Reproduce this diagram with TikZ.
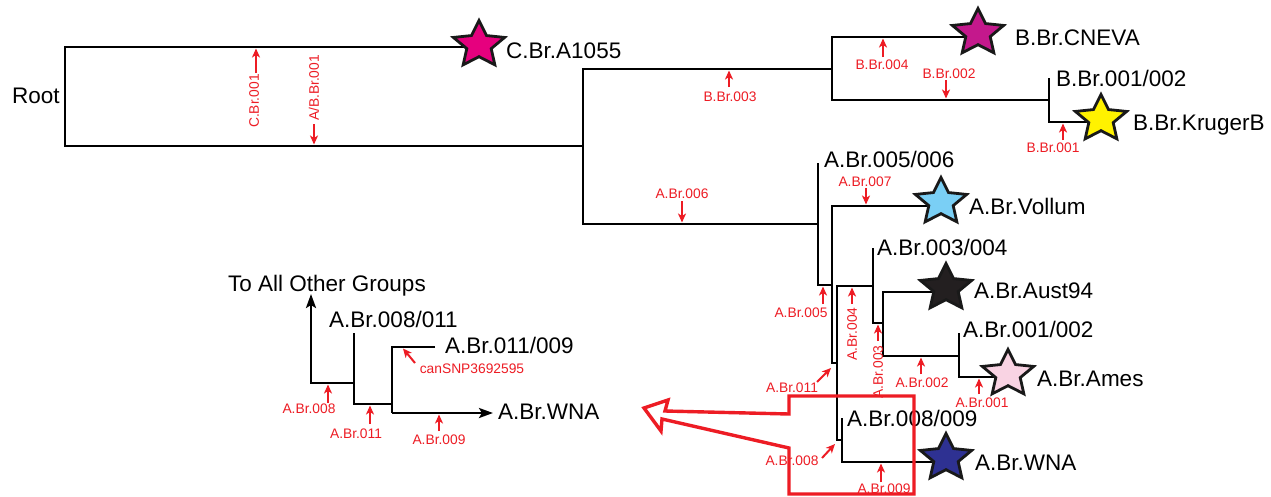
\documentclass[tikz,border=0pt]{standalone}
\usepackage{fontspec}
\setmainfont{Liberation Sans}
\usetikzlibrary{shapes.geometric,arrows.meta}
\definecolor{myred}{RGB}{237,28,36}
\definecolor{cC}{RGB}{230,0,126}
\definecolor{cCNEVA}{RGB}{196,24,140}
\definecolor{cKruger}{RGB}{255,242,0}
\definecolor{cVollum}{RGB}{122,207,245}
\definecolor{cAust}{RGB}{35,31,32}
\definecolor{cAmes}{RGB}{249,211,227}
\definecolor{cWNA}{RGB}{46,49,146}
\begin{document}
\begin{tikzpicture}[x=1pt,y=-1pt,
  tree/.style={line width=2.6pt, line join=miter, line cap=butt},
  starbox/.style={star, star points=5, star point ratio=2.1, minimum size=49pt, inner sep=0pt, draw=black!90, line width=2.8pt, xscale=1.1},
  big/.style={font=\fontsize{22.5}{27}\selectfont, inner sep=0pt, anchor=base west},
  lbl/.style={font=\fontsize{13.8}{16}\selectfont, text=myred, inner sep=0pt},
  redarr/.style={draw=myred, line width=2pt, -{Stealth[length=9pt,width=8pt,inset=2.5pt]}},
  blkarr/.style={tree, -{Stealth[length=14pt,width=10pt,inset=3pt]}},
  redbox/.style={draw=myred, line width=3.4pt, line join=miter}
]
\fill[white] (0,0) rectangle (1271,496);
\useasboundingbox (0,0) rectangle (1271,496);

% junction coordinates
\coordinate (rt) at (65,47);
\coordinate (rb) at (65,146);
\coordinate (n1m) at (583,146);
\coordinate (n1t) at (583,69);
\coordinate (n1b) at (583,224);
\coordinate (nBt) at (832,69);
\coordinate (nBu) at (832,37);
\coordinate (nBd) at (832,100);
\coordinate (nB12) at (1049,100);
\coordinate (nB12t) at (1049,78);
\coordinate (nB12b) at (1049,122);
\coordinate (nAm) at (818,224);
\coordinate (nAt) at (818,163);
\coordinate (nAb) at (818,285);
\coordinate (n2m) at (832,285);
\coordinate (n2t) at (832,206);
\coordinate (n2b) at (832,363);
\coordinate (n3m) at (837,363);
\coordinate (n3t) at (837,286);
\coordinate (n3b) at (837,440);
\coordinate (n34m) at (873,286);
\coordinate (n34t) at (873,248);
\coordinate (n34b) at (873,323);
\coordinate (n4m) at (883,323);
\coordinate (n4t) at (883,292);
\coordinate (n4b) at (883,356);
\coordinate (n12m) at (959,356);
\coordinate (n12t) at (959,333);
\coordinate (n12b) at (959,377);
\coordinate (n89m) at (842,440);
\coordinate (n89t) at (842,418);
\coordinate (n89b) at (842,462);

% tree lines
\draw[tree] (479,47) -- (rt) -- (rb) -- (n1m);
\draw[tree] (nBt) -- (n1t) -- (n1b) -- (nAm);
\draw[tree] (978,37) -- (nBu) -- (nBd) -- (nB12);
\draw[tree] (nB12t) -- (nB12b) -- (1101,122);
\draw[tree] (nAt) -- (nAb) -- (n2m);
\draw[tree] (941,206) -- (n2t) -- (n2b) -- (n3m);
\draw[tree] (n34m) -- (n3t) -- (n3b) -- (n89m);
\draw[tree] (n34t) -- (n34b) -- (n4m);
\draw[tree] (946,292) -- (n4t) -- (n4b) -- (n12m);
\draw[tree] (n12t) -- (n12b) -- (1008,377);
\draw[tree] (n89t) -- (n89b) -- (946,462);

% stars
\node[starbox, fill=cC] (sC) at (479,45) {};
\node[starbox, fill=cCNEVA] (sCN) at (978,33) {};
\node[starbox, fill=cKruger] (sKr) at (1101,119) {};
\node[starbox, fill=cVollum] (sVo) at (941,202) {};
\node[starbox, fill=cAust] (sAu) at (946,288) {};
\node[starbox, fill=cAmes] (sAm) at (1008,374) {};
\node[starbox, fill=cWNA] (sWN) at (946,458) {};

% big labels
\node[big] (tRoot) at (12,103) {Root};
\node[big] (tC) at (506,58) {C.Br.A1055};
\node[big] (tCN) at (1015,45) {B.Br.CNEVA};
\node[big] (tB12) at (1056,86) {B.Br.001/002};
\node[big] (tKr) at (1133,130) {B.Br.KrugerB};
\node[big] (tA56) at (824,167) {A.Br.005/006};
\node[big] (tVo) at (969,214) {A.Br.Vollum};
\node[big] (tA34) at (877,255) {A.Br.003/004};
\node[big] (tAu) at (974,298) {A.Br.Aust94};
\node[big] (tA12) at (963,337) {A.Br.001/002};
\node[big] (tAm) at (1037,386) {A.Br.Ames};
\node[big] (tA89) at (847,426) {A.Br.008/009};
\node[big] (tWN) at (975,470) {A.Br.WNA};

% small red labels and arrows
\node[lbl, rotate=90] (lC1) at (254,101) {C.Br.001};
\draw[redarr] (256,73) -- (256,48.5);
\node[lbl, rotate=90] (lAB1) at (314,88) {A/B.Br.001};
\draw[redarr] (314,124) -- (314,144.5);
\node[lbl] (lB3) at (730,97) {B.Br.003};
\draw[redarr] (729,87) -- (729,70.5);
\node[lbl] (lB4) at (882,65) {B.Br.004};
\draw[redarr] (883,57) -- (883,38.5);
\node[lbl] (lB2) at (949,74) {B.Br.002};
\draw[redarr] (946,80) -- (946,98.5);
\node[lbl] (lB1) at (1053,148) {B.Br.001};
\draw[redarr] (1063,140) -- (1063,123.5);
\node[lbl] (lA6) at (682,194) {A.Br.006};
\draw[redarr] (682,201) -- (682,222.5);
\node[lbl] (lA7) at (865,182) {A.Br.007};
\draw[redarr] (866,188) -- (866,204.5);
\node[lbl] (lA5) at (801,313) {A.Br.005};
\draw[redarr] (823,304) -- (823,286.5);
\node[lbl, rotate=90] (lA4) at (852,334) {A.Br.004};
\draw[redarr] (852,304) -- (852,287.5);
\node[lbl, rotate=90] (lA3) at (878,372) {A.Br.003};
\draw[redarr] (878,341) -- (878,324.5);
\node[lbl] (lA2) at (922,383) {A.Br.002};
\draw[redarr] (921,374) -- (921,357.5);
\node[lbl] (lA1) at (982,403) {A.Br.001};
\draw[redarr] (979,394) -- (979,378.5);
\node[lbl] (lA11) at (792,388) {A.Br.011};
\draw[redarr] (817,382) -- (831,368);
\node[lbl] (lA8) at (792,461) {A.Br.008};
\draw[redarr] (822,458) -- (835,444);
\node[lbl] (lA9) at (884,489) {A.Br.009};
\draw[redarr] (881,482) -- (881,463.5);

% red callout box with hollow arrow
\draw[redbox] (644,408) -- (668,400) -- (665,411) -- (789,414) -- (789,396) -- (914,396) -- (914,494) -- (789,494) -- (789,448) -- (662,419) -- (661,431) -- cycle;

% inset tree
\coordinate (iA) at (311,383);
\coordinate (iAt) at (311,294);
\coordinate (iB) at (354,383);
\coordinate (iBt) at (354,333);
\coordinate (iBb) at (354,404);
\coordinate (iC) at (392,404);
\coordinate (iCt) at (392,347);
\coordinate (iCb) at (392,413);
\coordinate (iD) at (435,347);
\coordinate (iE) at (493,413);
\draw[blkarr] (iB) -- (iA) -- (iAt);
\draw[tree] (iBt) -- (iBb) -- (iC);
\draw[tree] (iD) -- (iCt) -- (iCb);
\draw[blkarr] (iCb) -- (iE);

\node[big] (tTAO) at (228,291) {To All Other Groups};
\node[big] (t811) at (329,327) {A.Br.008/011};
\node[big] (t119) at (445,353) {A.Br.011/009};
\node[big] (tiWN) at (498,419) {A.Br.WNA};

\node[lbl] (li8) at (309,409) {A.Br.008};
\draw[redarr] (328,403) -- (328,384.5);
\node[lbl] (li11) at (356,434) {A.Br.011};
\draw[redarr] (370,424) -- (370,405.5);
\node[lbl] (li9) at (439,440) {A.Br.009};
\draw[redarr] (439,431) -- (439,414.5);
\node[lbl] (lsnp) at (472,369) {canSNP3692595};
\draw[redarr] (415,363) -- (403,348.5);
\end{tikzpicture}
\end{document}
